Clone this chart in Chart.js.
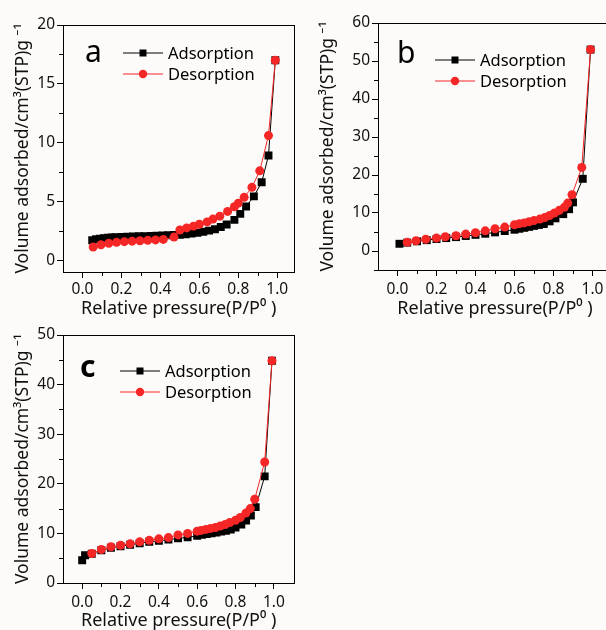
<!DOCTYPE html>
<html lang="en"><head>
<title>N2 isotherms a b c</title>
<style>
* { margin: 0; padding: 0 }
body { width: 606px; height: 630px; overflow: hidden; background: #fcfbf9; position: relative; }
canvas { position: absolute; }
#ChartA { left: 0; top: 0; }
#ChartB { left: 300px; top: 0; }
#ChartC { left: 0; top: 320px; }
</style>
<script src="https://cdn.jsdelivr.net/npm/chart.js"></script>
<script>

// panel a
const a_ads_p = [0.05,0.07,0.09,0.11,0.13,0.15,0.17,0.20,0.23,0.26,0.29,0.32,0.35,0.38,0.41,0.44,0.47,0.50,0.53,0.56,0.59,0.62,0.65,0.68,0.71,0.74,0.78,0.81,0.84,0.88,0.92,0.955,0.99];
const a_ads_v = [1.70,1.78,1.84,1.88,1.91,1.94,1.96,1.98,2.00,2.02,2.04,2.05,2.07,2.08,2.10,2.12,2.14,2.16,2.20,2.26,2.33,2.42,2.52,2.64,2.82,3.04,3.43,3.94,4.57,5.43,6.63,8.90,17.0];
const a_des_p = [0.99,0.955,0.91,0.87,0.83,0.80,0.78,0.745,0.705,0.67,0.64,0.60,0.57,0.535,0.50,0.47,0.415,0.375,0.335,0.295,0.255,0.215,0.175,0.135,0.095,0.055];
const a_des_v = [17.0,10.6,7.6,6.2,5.35,4.85,4.55,4.15,3.75,3.5,3.26,3.06,2.9,2.75,2.57,1.97,1.77,1.73,1.69,1.66,1.62,1.58,1.52,1.44,1.32,1.13];

// panel b
const b_ads_p = [0.01,0.05,0.10,0.15,0.20,0.25,0.30,0.35,0.40,0.45,0.50,0.55,0.60,0.625,0.65,0.675,0.70,0.725,0.75,0.78,0.81,0.85,0.88,0.90,0.95,0.99];
const b_ads_v = [1.9,2.2,2.55,2.85,3.15,3.4,3.65,3.95,4.25,4.55,4.9,5.25,5.6,5.85,6.1,6.35,6.6,6.85,7.1,7.8,8.6,9.7,11.0,12.8,19.0,53.0];
const b_des_p = [0.99,0.945,0.895,0.873,0.856,0.83,0.805,0.78,0.755,0.73,0.70,0.675,0.65,0.625,0.60,0.55,0.50,0.45,0.40,0.35,0.30,0.245,0.20,0.145,0.095,0.05];
const b_des_v = [53.0,22.0,14.8,12.6,11.5,10.7,10.0,9.35,8.8,8.4,8.0,7.7,7.4,7.2,6.9,6.3,5.85,5.3,4.8,4.45,4.0,3.75,3.4,3.1,2.7,2.3];

// panel c
const c_ads_p = [0.0,0.015,0.05,0.10,0.15,0.20,0.25,0.30,0.35,0.40,0.45,0.50,0.55,0.60,0.625,0.65,0.675,0.70,0.725,0.75,0.775,0.80,0.83,0.855,0.88,0.905,0.952,0.99];
const c_ads_v = [4.6,5.6,5.9,6.6,7.1,7.4,7.7,8.0,8.3,8.5,8.75,9.0,9.2,9.5,9.7,9.85,10.0,10.15,10.35,10.55,10.8,11.2,11.8,12.6,13.6,15.3,21.5,44.8];
const c_des_p = [0.99,0.952,0.90,0.877,0.854,0.825,0.80,0.77,0.746,0.72,0.695,0.67,0.645,0.62,0.60,0.55,0.50,0.45,0.40,0.35,0.30,0.25,0.20,0.15,0.10,0.05];
const c_des_v = [44.8,24.4,16.9,15.0,14.1,13.2,12.65,12.2,11.8,11.5,11.2,11.0,10.8,10.6,10.45,10.0,9.7,9.15,8.9,8.6,8.3,7.9,7.6,7.3,6.75,5.95];

const x_ticks = [0.0, 0.2, 0.4, 0.6, 0.8, 1.0];
const x_minor = [0.1, 0.3, 0.5, 0.7, 0.9];
const a_y_ticks = [0, 5, 10, 15, 20];
const a_y_minor = [2.5, 7.5, 12.5, 17.5];
const b_y_ticks = [0, 10, 20, 30, 40, 50, 60];
const b_y_minor = [-5, 5, 15, 25, 35, 45, 55];
const c_y_ticks = [0, 10, 20, 30, 40, 50];
const c_y_minor = [5, 15, 25, 35, 45];

const X_TITLE = "Relative pressure(P/P\u2070 )";
const Y_TITLE = "Volume adsorbed/cm\u00b3(STP)g \u207b\u00b9";
const RED = "rgb(245,38,38)";
const FONT = '"Noto Sans", "Open Sans", sans-serif';

function get(id) {
    return document.getElementById(id);
}

function zip(xs, ys) {
    return xs.map((x, i) => ({x: x, y: ys[i]}));
}

const panelDeco = {
    id: "panelDeco",
    afterDraw(chart, args, opts) {
        const ctx = chart.ctx;
        const area = chart.chartArea;
        const xs = chart.scales.x, ys = chart.scales.y;
        ctx.save();
        ctx.strokeStyle = "#000";
        ctx.lineWidth = 1;
        ctx.strokeRect(Math.round(area.left) + 0.5, Math.round(area.top) + 0.5,
                       Math.round(area.width), Math.round(area.height));
        // minor ticks, outward
        ctx.beginPath();
        for (const v of opts.xMinor) {
            const px = Math.round(xs.getPixelForValue(v)) + 0.5;
            ctx.moveTo(px, area.bottom);
            ctx.lineTo(px, area.bottom + 4);
        }
        for (const v of opts.yMinor) {
            if (v < ys.min) continue;
            const py = Math.round(ys.getPixelForValue(v)) + 0.5;
            ctx.moveTo(area.left, py);
            ctx.lineTo(area.left - 4, py);
        }
        ctx.stroke();

        // panel letter
        ctx.fillStyle = "#000";
        ctx.font = (opts.letterBold ? "bold " : "") + "30px " + FONT;
        ctx.textBaseline = "alphabetic";
        ctx.fillText(opts.letter, area.left + opts.letterX, area.top + opts.letterY);

        // legend: line with marker, then label
        ctx.font = "16.5px " + FONT;
        ctx.textBaseline = "middle";
        chart.data.datasets.forEach((ds, i) => {
            const y = area.top + opts.legendY + i * 21;
            const x0 = area.left + opts.legendX;
            ctx.strokeStyle = ds.borderColor;
            ctx.lineWidth = 1;
            ctx.beginPath();
            ctx.moveTo(x0, y);
            ctx.lineTo(x0 + 40, y);
            ctx.stroke();
            ctx.fillStyle = ds.borderColor;
            if (ds.pointStyle === "rect") {
                ctx.fillRect(x0 + 20 - 3.5, y - 3.5, 7, 7);
            } else {
                ctx.beginPath();
                ctx.arc(x0 + 20, y, 4.2, 0, Math.PI * 2);
                ctx.fill();
            }
            ctx.fillStyle = "#000";
            ctx.fillText(ds.label, x0 + 45, y + 1);
        });
        ctx.restore();
    }
};

function makePanel(id, p) {
    return new Chart(get(id), {
        type: "line",
        data: {
            datasets: [{
                label: "Adsorption",
                data: zip(p.adsP, p.adsV),
                borderColor: "#000",
                backgroundColor: "#000",
                pointStyle: "rect",
                pointRadius: 5.6,
                pointBorderWidth: 0,
                borderWidth: 1,
                order: 2,
            }, {
                label: "Desorption",
                data: zip(p.desP, p.desV),
                borderColor: RED,
                backgroundColor: RED,
                pointStyle: "circle",
                pointRadius: 4.5,
                pointBorderWidth: 0,
                borderWidth: 1,
                order: 1,
            }],
        },
        options: {
            responsive: false,
            animation: false,
            layout: { padding: { top: p.padTop, right: p.padRight, left: 0, bottom: 0 } },
            plugins: {
                legend: { display: false },
                tooltip: { enabled: false },
                panelDeco: {
                    letter: p.letter, letterX: p.letterX, letterY: p.letterY, letterBold: p.letterBold,
                    legendX: p.legendX, legendY: p.legendY,
                    xMinor: x_minor, yMinor: p.yMinor,
                },
            },
            scales: {
                x: {
                    type: "linear",
                    min: p.xMin, max: p.xMax,
                    afterBuildTicks: s => { s.ticks = x_ticks.map(v => ({value: v})); },
                    afterFit: s => { s.height = p.xAxisH; },
                    ticks: {
                        callback: v => v.toFixed(1),
                        color: "#111",
                        font: { family: FONT, size: 15.5 },
                        padding: p.xTickPad,
                        maxRotation: 0,
                        autoSkip: false,
                    },
                    grid: { drawOnChartArea: false, tickLength: 6, color: "#000" },
                    border: { color: "#000" },
                    title: {
                        display: true, text: X_TITLE, color: "#111",
                        font: { family: FONT, size: 18 }, padding: { top: 0, bottom: 0 },
                    },
                },
                y: {
                    min: p.yMin, max: p.yMax,
                    afterBuildTicks: s => { s.ticks = p.yTicks.map(v => ({value: v})); },
                    afterFit: s => { s.width = p.yAxisW; },
                    ticks: {
                        color: "#111",
                        font: { family: FONT, size: 15.5 },
                        padding: 2,
                        autoSkip: false,
                    },
                    grid: { drawOnChartArea: false, tickLength: 6, color: "#000" },
                    border: { color: "#000" },
                    title: {
                        display: true, text: Y_TITLE, color: "#111",
                        font: { family: FONT, size: 17.5 }, padding: { top: p.yTitlePad, bottom: 0 },
                    },
                },
            },
        },
        plugins: [panelDeco],
    });
}

function bodyOnLoad() {
    makePanel("ChartA", {
        adsP: a_ads_p, adsV: a_ads_v, desP: a_des_p, desV: a_des_v,
        xMin: -0.1, xMax: 1.088, yMin: -1, yMax: 20,
        yTicks: a_y_ticks, yMinor: a_y_minor,
        padTop: 25, padRight: 3, xAxisH: 48, yAxisW: 63, yTitlePad: 13, xTickPad: 2,
        letter: "a", letterX: 22, letterY: 37, letterBold: false,
        legendX: 60, legendY: 28,
    });
    makePanel("ChartB", {
        adsP: b_ads_p, adsV: b_ads_v, desP: b_des_p, desV: b_des_v,
        xMin: -0.1, xMax: 1.1, yMin: -5, yMax: 60,
        yTicks: b_y_ticks, yMinor: b_y_minor,
        padTop: 23, padRight: 8, xAxisH: 50, yAxisW: 78, yTitlePad: 18, xTickPad: 4,
        letter: "b", letterX: 19, letterY: 40, letterBold: false,
        legendX: 57, legendY: 37,
    });
    makePanel("ChartC", {
        adsP: c_ads_p, adsV: c_ads_v, desP: c_des_p, desV: c_des_v,
        xMin: -0.1, xMax: 1.107, yMin: 0, yMax: 50,
        yTicks: c_y_ticks, yMinor: c_y_minor,
        padTop: 15, padRight: 3, xAxisH: 49, yAxisW: 63, yTitlePad: 13, xTickPad: 4,
        letter: "c", letterX: 17, letterY: 42, letterBold: true,
        legendX: 57, legendY: 36,
    });
}

</script>
</head><body onload="bodyOnLoad()">
<canvas id="ChartA" width="300" height="320"></canvas>
<canvas id="ChartB" width="320" height="320"></canvas>
<canvas id="ChartC" width="300" height="312"></canvas>
</body></html>
